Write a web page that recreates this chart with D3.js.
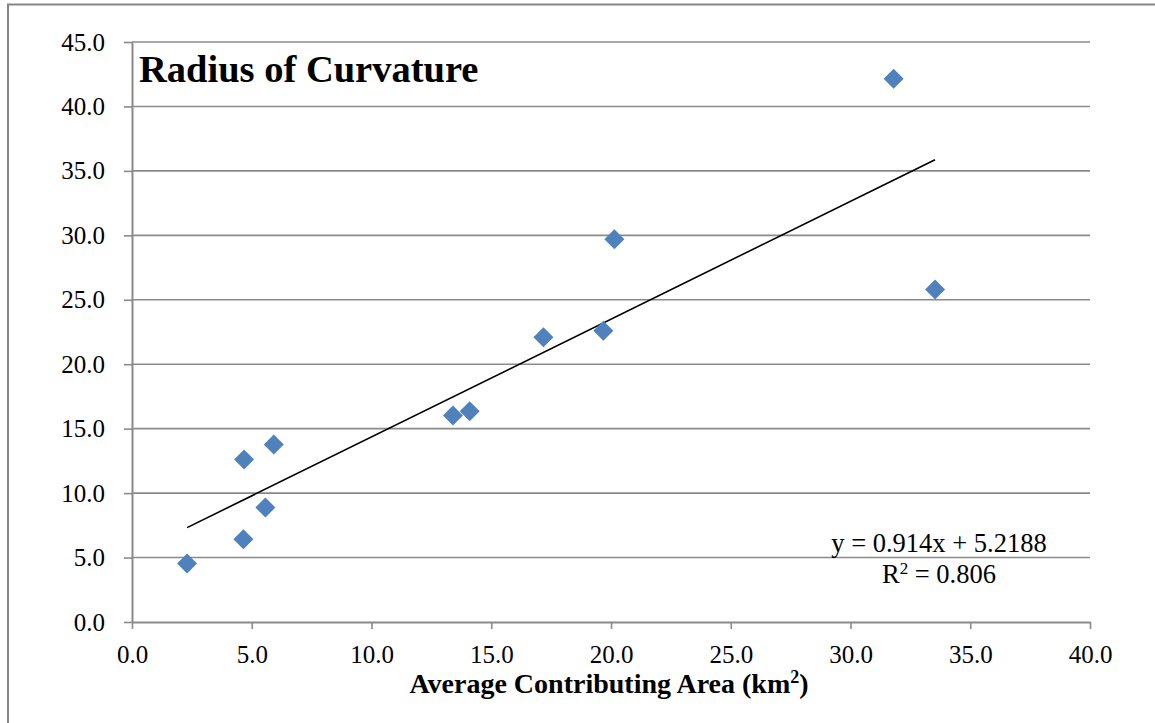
<!DOCTYPE html>
<html lang="en">
<head>
<meta charset="UTF-8">
<title>Radius of Curvature</title>
<script src="https://cdn.jsdelivr.net/npm/d3@7"></script>
<style>
  html, body { margin: 0; padding: 0; background: #fff; }
  svg { display: block; }
</style>
</head>
<body>
<svg width="1155" height="723"></svg>
<script>
// data
var areaKm2 = [2.3, 4.65, 4.68, 5.57, 5.92, 13.4, 14.1, 17.18, 19.68, 20.14, 31.8, 33.53];
var radius  = [4.53, 6.42, 12.61, 8.88, 13.77, 16.02, 16.36, 22.1, 22.6, 29.7, 42.15, 25.8];
var xTicks = [0, 5, 10, 15, 20, 25, 30, 35, 40];
var yTicks = [0, 5, 10, 15, 20, 25, 30, 35, 40, 45];
var trendSlope = 0.914, trendIntercept = 5.2188, trendR2 = 0.806;

var svg = d3.select("svg");
var margin = {left: 132, right: 65, top: 42, bottom: 101};
var width = 1155, height = 723;

var x = d3.scaleLinear().domain([0, 40]).range([margin.left, width - margin.right]);
var y = d3.scaleLinear().domain([0, 45]).range([height - margin.bottom, margin.top]);

var grey = "#8a8a8a";
var serif = "'Liberation Serif', serif";

// outer frame (left + top only visible)
svg.append("path")
  .attr("d", "M8,723V4.5H1155")
  .attr("fill", "none").attr("stroke", "#858585").attr("stroke-width", 2);

// horizontal gridlines
svg.append("g").selectAll("line").data(yTicks.filter(function(d) { return d > 0; })).enter()
  .append("line")
  .attr("x1", x(0)).attr("x2", x(40))
  .attr("y1", function(d) { return y(d); }).attr("y2", function(d) { return y(d); })
  .attr("stroke", grey).attr("stroke-width", 1.6);

// axes
var xAxis = d3.axisBottom(x).tickValues(xTicks).tickFormat(d3.format(".1f")).tickSizeInner(7).tickSizeOuter(0).tickPadding(16);
var yAxis = d3.axisLeft(y).tickValues(yTicks).tickFormat(d3.format(".1f")).tickSizeInner(8).tickSizeOuter(0).tickPadding(19);

var gx = svg.append("g").attr("transform", "translate(0," + y(0) + ")").call(xAxis);
var gy = svg.append("g").attr("transform", "translate(" + x(0) + ",0)").call(yAxis);

[gx, gy].forEach(function(g) {
  g.select(".domain").attr("stroke", grey).attr("stroke-width", 2);
  g.selectAll(".tick line").attr("stroke", grey).attr("stroke-width", 1.6);
  g.selectAll(".tick text").attr("fill", "#000").style("font-family", serif).style("font-size", "25px");
});

// trendline over the range of the data
var xMin = d3.min(areaKm2), xMax = d3.max(areaKm2);
svg.append("line")
  .attr("x1", x(xMin)).attr("y1", y(trendSlope * xMin + trendIntercept))
  .attr("x2", x(xMax)).attr("y2", y(trendSlope * xMax + trendIntercept))
  .attr("stroke", "#000").attr("stroke-width", 1.6);

// diamond markers
var diamond = d3.symbol().type(d3.symbolSquare).size(200);
svg.append("g").selectAll("path").data(areaKm2).enter()
  .append("path")
  .attr("d", diamond)
  .attr("transform", function(d, i) { return "translate(" + x(d) + "," + y(radius[i]) + ") rotate(45)"; })
  .attr("fill", "#4f81bd");

// trendline label
svg.append("text").attr("text-anchor", "middle").attr("x", 939).attr("y", 552)
  .style("font-family", serif).style("font-size", "26.5px").attr("fill", "#000")
  .text("y = " + trendSlope + "x + " + trendIntercept);
var r2 = svg.append("text").attr("text-anchor", "middle").attr("x", 939).attr("y", 583)
  .style("font-family", serif).style("font-size", "26.5px").attr("fill", "#000");
r2.append("tspan").text("R");
r2.append("tspan").attr("dy", -9).style("font-size", "17px").text("2");
r2.append("tspan").attr("dy", 9).text(" = " + trendR2);

// chart title
svg.append("text").attr("x", 139).attr("y", 82)
  .style("font-family", serif).style("font-weight", "bold").style("font-size", "38.5px")
  .text("Radius of Curvature");

// x axis title
var xt = svg.append("text").attr("x", 609).attr("y", 693).attr("text-anchor", "middle")
  .style("font-family", serif).style("font-weight", "bold").style("font-size", "28px");
xt.append("tspan").text("Average Contributing Area (km");
xt.append("tspan").attr("dy", -10).style("font-size", "18px").text("2");
xt.append("tspan").attr("dy", 10).text(")");
</script>
</body>
</html>
